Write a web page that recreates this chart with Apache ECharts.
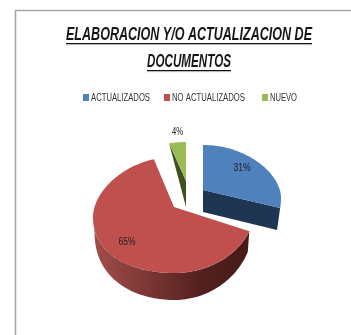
<!DOCTYPE html>
<html><head><meta charset="utf-8">
<style>html,body{margin:0;padding:0;background:#fff}#c{width:351px;height:335px}</style>
<script src="https://cdn.jsdelivr.net/npm/echarts@6/dist/echarts.min.js"></script>
</head><body><div id="c"></div>
<script>
const categories = ["ACTUALIZADOS", "NO ACTUALIZADOS", "NUEVO"];
const seriesValues = [31, 65, 4];
const labelTexts = ["31%", "65%", "4%"];
const titleLines = ["ELABORACION Y/O ACTUALIZACION DE", "DOCUMENTOS"];
const topColors = ["#4f81bd", "#c0504d", "#9bbb59"];

const FONT = '"Liberation Sans",sans-serif';
// per-slice disc projection: centre, radius x, radius back/front, depth,
// side droop e (on side sd), angle warp w for the front half, bottom x shrink k,
// share of depth left at the sides df
const discs = [
  {cx:203, cy:190, rx:78, rb:45, rf:68, d:22, e:8,  sd:1,  w:0.4, k:0.96, df:1},
  {cx:174, cy:207, rx:81, rb:50, rf:66, d:27, e:10, sd:-1, w:1,   k:0.98, df:0.62},
  {cx:186, cy:181, rx:68, rb:39, rf:50, d:26, e:0,  sd:-1, w:1,   k:1,    df:1}
];
const total = seriesValues.reduce((a,b)=>a+b,0);
const starts = []; seriesValues.reduce((a,v,i)=>(starts[i]=a,a+v),0);

function pt(disc, deg, down){
  let g = deg;
  if(g>90 && g<180) g = 90+(g-90)*disc.w;
  const t = g*Math.PI/180, c = Math.cos(t), s = Math.sin(t);
  const droop = (s*disc.sd>0?1:0)*disc.e*s*s;
  const depth = disc.d*(disc.df+(1-disc.df)*Math.abs(c));
  return [disc.cx + disc.rx*s*(down?disc.k:1), disc.cy - c*(c>0?disc.rb:disc.rf) + droop + (down?depth:0)];
}
function arc(disc, a, b, down){
  const out=[]; const n=Math.max(2,Math.ceil(Math.abs(b-a)/2));
  for(let i=0;i<=n;i++) out.push(pt(disc,a+(b-a)*i/n,down));
  return out;
}
function renderSlice(params, api){
  const i = params.dataIndex, v = api.value(1), disc = discs[i];
  const a = starts[i]/total*360, b = a + v/total*360;
  const kids = [];
  const apex=[disc.cx,disc.cy], apexD=[disc.cx,disc.cy+disc.d];
  if(i===0){
    kids.push({type:'polygon',shape:{points:[apex,pt(disc,b,false),pt(disc,b,true),apexD]},style:{fill:'#1f3552'}});
  }
  if(i===1){
    const wall = arc(disc,a,270,false).concat(arc(disc,270,a,true));
    kids.push({type:'polygon',shape:{points:wall},style:{fill:new echarts.graphic.LinearGradient(1,0,0,0,[
      {offset:0,color:'#451a18'},{offset:0.3,color:'#52201e'},{offset:0.65,color:'#7a3735'},{offset:1,color:'#a34e4b'}])}});
  }
  if(i===2){
    kids.push({type:'polygon',shape:{points:[pt(disc,a,false),apex,apexD]},style:{fill:'#3f4f20'}});
  }
  kids.push({type:'polygon',shape:{points:[apex].concat(arc(disc,a,b,false))},style:{fill:topColors[i]}});
  return {type:'group',children:kids};
}

// horizontally condensed text fitted to a target width
function fitted(text, cx, cy, font, width, fill, extra){
  const w = echarts.format.getTextRect(text, font).width;
  return {type:'text', z:10, x:cx, y:cy, scaleX:width/w, scaleY:1,
    style:Object.assign({text, fill, font, textAlign:'center', textVerticalAlign:'middle'}, extra||{})};
}
const titleBox = [[189,35,246],[189,62,84]];
const titleShadow = {shadowColor:'rgba(0,0,0,0.35)',shadowBlur:1,shadowOffsetY:1};
const titleFont = 'italic bold 18px '+FONT;
const legendFont = '11px '+FONT;
const legendSwatch = [83,164,262];
const legendTextBox = [[120.5,59],[208.5,73],[283.5,27]];
const labelBox = [[242,168,17],[127,242,17],[177.5,132,11]];

const chart = echarts.init(document.getElementById('c'),null,{renderer:'canvas'});
chart.setOption({
  animation:false,
  backgroundColor:'#fff',
  series:[{
    type:'custom', coordinateSystem:'none', name:'doc', silent:true,
    renderItem:renderSlice,
    data:categories.map((n,i)=>({name:n,value:[i,seriesValues[i]]}))
  }],
  graphic:[
    {type:'line',z:1,shape:{x1:15.5,y1:10,x2:15.5,y2:335},style:{stroke:'#a6a6a6',lineWidth:1.5}},
    {type:'line',z:1,shape:{x1:15,y1:10.5,x2:351,y2:10.5},style:{stroke:'#a6a6a6',lineWidth:1.5}},
    ...titleLines.map((t,i)=>fitted(t,titleBox[i][0],titleBox[i][1],titleFont,titleBox[i][2],'#161616',titleShadow)),
    ...titleLines.map((t,i)=>({type:'rect',z:10,shape:{x:titleBox[i][0]-titleBox[i][2]/2,y:titleBox[i][1]+8,width:titleBox[i][2],height:1},style:Object.assign({fill:'#111'},titleShadow)})),
    ...categories.map((c,i)=>({type:'rect',z:10,shape:{x:legendSwatch[i],y:94,width:6,height:7},style:{fill:topColors[i]}})),
    ...categories.map((c,i)=>fitted(c,legendTextBox[i][0],97.5,legendFont,legendTextBox[i][1],'#333')),
    ...labelTexts.map((l,i)=>fitted(l,labelBox[i][0],labelBox[i][1],'11.5px '+FONT,labelBox[i][2],'#222'))
  ]
});
</script></body></html>
